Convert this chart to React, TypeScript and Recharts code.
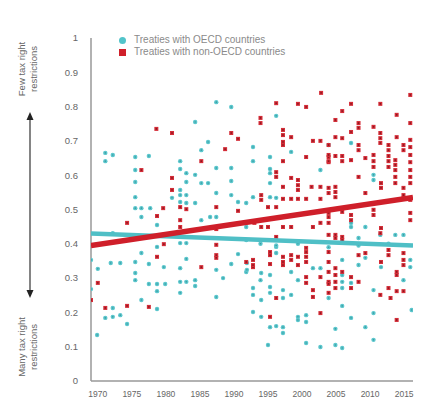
import React from "react";
import { ScatterChart, Scatter, XAxis, YAxis } from "recharts";

// [year, score] pairs
const oecdPoints: [number, number][] = [
  [1971.1, 0.665], [1972.2, 0.659], [1971.1, 0.641], [1975.5, 0.653], [1977.5, 0.656],
  [1975.5, 0.615], [1975.5, 0.58], [1975.5, 0.536], [1975.5, 0.504], [1976.4, 0.504],
  [1977.7, 0.504], [1976.4, 0.478], [1978.7, 0.455], [1972.2, 0.431], [1978.7, 0.391],
  [1969.0, 0.353], [1976.4, 0.373], [1971.9, 0.344], [1973.3, 0.344], [1975.5, 0.347],
  [1977.5, 0.341], [1979.7, 0.332], [1970.0, 0.327], [1975.5, 0.315], [1975.5, 0.294],
  [1969.0, 0.268], [1977.5, 0.283], [1978.7, 0.283], [1979.9, 0.283], [1978.7, 0.262],
  [1972.2, 0.213], [1976.4, 0.236], [1978.7, 0.21], [1971.1, 0.184], [1972.2, 0.187],
  [1973.3, 0.192], [1974.3, 0.166], [1969.9, 0.134],
  [1987.4, 0.813], [1989.6, 0.799], [1984.3, 0.755], [1986.2, 0.697], [1985.2, 0.673],
  [1982.1, 0.641], [1982.1, 0.618], [1983.0, 0.606], [1987.4, 0.621], [1989.6, 0.621],
  [1983.0, 0.58], [1984.3, 0.601], [1985.2, 0.577], [1986.2, 0.577], [1989.6, 0.583],
  [1982.1, 0.557], [1982.1, 0.542], [1983.0, 0.542], [1987.4, 0.548], [1989.6, 0.542],
  [1980.9, 0.534], [1982.1, 0.522], [1983.0, 0.519], [1984.3, 0.519], [1990.6, 0.522],
  [1991.8, 0.519], [1986.5, 0.478], [1987.4, 0.478], [1985.2, 0.469], [1991.8, 0.449],
  [1982.1, 0.402], [1983.0, 0.402], [1991.8, 0.411], [1983.0, 0.356], [1990.6, 0.37],
  [1989.6, 0.341], [1991.8, 0.318], [1982.1, 0.329], [1987.4, 0.324], [1988.4, 0.3],
  [1982.1, 0.289], [1983.0, 0.289], [1984.3, 0.294], [1984.3, 0.277], [1982.1, 0.257],
  [1987.4, 0.245],
  [1996.2, 0.773], [1992.8, 0.682], [1992.8, 0.641], [1998.4, 0.668], [1995.3, 0.653],
  [1995.3, 0.618], [1995.3, 0.606], [2002.7, 0.615], [1995.3, 0.577], [1992.8, 0.536],
  [1995.3, 0.536], [1996.2, 0.534], [1996.2, 0.391], [1996.2, 0.373], [2001.6, 0.329],
  [2002.7, 0.329], [1994.0, 0.315], [1995.3, 0.309], [1998.4, 0.318], [1999.4, 0.294],
  [1992.8, 0.271], [1992.8, 0.251], [1995.3, 0.274], [1995.3, 0.257], [1997.2, 0.265],
  [1997.2, 0.242], [1998.4, 0.251], [1994.0, 0.236], [1992.8, 0.201], [1994.0, 0.187],
  [1999.4, 0.187], [1999.4, 0.178], [2000.6, 0.192], [2000.6, 0.172], [1995.3, 0.157],
  [1996.2, 0.16], [1997.2, 0.157], [1997.2, 0.14], [1995.0, 0.105], [2000.6, 0.111],
  [2002.7, 0.099], [1991.9, 0.344], [1991.9, 0.324], [1993.9, 0.294],
  [1993.9, 0.4], [1996.2, 0.395], [1999.4, 0.4], [2003.9, 0.39], [2008.3, 0.395], [2012.7, 0.4],
  [2003.9, 0.688], [2007.2, 0.694], [2010.5, 0.601], [2010.5, 0.586], [2007.2, 0.461],
  [2007.2, 0.449], [2009.3, 0.449], [2008.3, 0.417], [2011.5, 0.426], [2013.7, 0.426],
  [2014.9, 0.426], [2005.9, 0.353], [2011.6, 0.332], [2015.9, 0.353], [2015.9, 0.332],
  [2005.9, 0.309], [2005.9, 0.289], [2005.9, 0.271], [2007.2, 0.286], [2008.3, 0.338],
  [2009.3, 0.359], [2014.9, 0.294], [2010.5, 0.265], [2003.9, 0.242], [2005.9, 0.219],
  [2016.1, 0.207], [2010.5, 0.198], [2007.2, 0.184], [2009.3, 0.157], [2004.9, 0.152],
  [2004.9, 0.105], [2005.9, 0.096], [2010.5, 0.12],
];

const nonOecdPoints: [number, number][] = [
  [1978.6, 0.735], [1976.4, 0.615], [1978.7, 0.481], [1979.6, 0.504], [1974.3, 0.461],
  [1979.7, 0.399], [1978.7, 0.362], [1970.0, 0.286], [1969.0, 0.236], [1971.1, 0.213],
  [1974.3, 0.219], [1977.5, 0.216],
  [1980.9, 0.723], [1989.6, 0.723], [1990.6, 0.706], [1988.7, 0.676], [1985.2, 0.641],
  [1980.9, 0.592], [1980.9, 0.557], [1982.1, 0.507], [1983.0, 0.501], [1987.4, 0.507],
  [1990.6, 0.496], [1982.1, 0.469], [1982.1, 0.449], [1987.4, 0.443], [1987.4, 0.397],
  [1987.4, 0.367], [1987.4, 0.359], [1991.8, 0.347], [1985.2, 0.332], [1992.8, 0.332],
  [2002.8, 0.84], [1996.2, 0.81], [1999.4, 0.808], [2000.6, 0.799], [1993.9, 0.767],
  [1993.9, 0.752], [1997.2, 0.732], [1997.2, 0.717], [1998.4, 0.711], [1997.2, 0.697],
  [1997.2, 0.688], [2001.6, 0.7], [2002.7, 0.7], [2003.9, 0.688], [2000.6, 0.653],
  [2003.9, 0.653], [2003.9, 0.638], [1996.2, 0.609], [1996.2, 0.595], [1997.2, 0.641],
  [1998.4, 0.592], [1999.4, 0.586], [1999.4, 0.571], [1999.4, 0.557], [1997.2, 0.566],
  [2001.4, 0.566], [2002.7, 0.566], [2003.9, 0.563], [1994.0, 0.542], [1994.0, 0.528],
  [1997.2, 0.531], [1998.4, 0.531], [1999.4, 0.531], [2000.6, 0.531], [2002.7, 0.531],
  [1995.0, 0.507], [1996.2, 0.507], [1993.0, 0.461], [1994.0, 0.449], [1995.0, 0.449],
  [1997.2, 0.449], [1998.4, 0.449], [2001.6, 0.449], [2002.7, 0.461], [2003.9, 0.461],
  [1996.2, 0.42], [2000.6, 0.388], [2000.6, 0.376], [2000.6, 0.362], [2000.6, 0.347],
  [1995.3, 0.376], [1995.3, 0.367], [1997.2, 0.362], [1997.2, 0.347], [1997.2, 0.338],
  [1998.4, 0.367], [1998.4, 0.353], [1999.4, 0.362], [1999.4, 0.338], [2003.9, 0.347],
  [1992.8, 0.353], [1992.8, 0.338], [1995.3, 0.341], [2000.6, 0.303], [2000.6, 0.286],
  [2002.7, 0.303], [2003.9, 0.289], [2003.9, 0.283], [1996.2, 0.242], [2001.6, 0.265],
  [2001.6, 0.245], [2003.9, 0.257], [1995.3, 0.187], [2002.7, 0.198],
  [2015.9, 0.834], [2007.2, 0.808], [2011.5, 0.808], [2005.9, 0.787], [2013.9, 0.776],
  [2004.9, 0.761], [2008.3, 0.752], [2008.3, 0.738], [2010.5, 0.741], [2015.9, 0.752],
  [2007.2, 0.726], [2011.5, 0.723], [2011.5, 0.708], [2011.5, 0.694], [2004.9, 0.711],
  [2005.9, 0.708], [2013.9, 0.711], [2015.9, 0.703], [2015.9, 0.682], [2008.3, 0.688],
  [2008.3, 0.673], [2009.3, 0.65], [2012.7, 0.688], [2012.7, 0.673], [2012.7, 0.656],
  [2012.7, 0.641], [2012.7, 0.624], [2013.7, 0.644], [2013.7, 0.63], [2013.7, 0.615],
  [2013.7, 0.595], [2013.7, 0.577], [2014.9, 0.688], [2014.9, 0.673], [2015.9, 0.659],
  [2015.9, 0.638], [2015.9, 0.615], [2015.9, 0.595], [2015.9, 0.577], [2003.9, 0.659],
  [2003.9, 0.641], [2004.9, 0.656], [2005.9, 0.656], [2005.9, 0.641], [2007.2, 0.644],
  [2010.5, 0.659], [2010.5, 0.641], [2010.5, 0.624], [2008.3, 0.595], [2004.9, 0.566],
  [2004.9, 0.551], [2003.9, 0.548], [2009.3, 0.548], [2014.9, 0.563], [2014.9, 0.542],
  [2011.6, 0.577], [2011.6, 0.563], [2004.9, 0.536], [2015.9, 0.528], [2005.9, 0.493],
  [2007.2, 0.484], [2007.2, 0.469], [2003.9, 0.49], [2003.9, 0.478], [2010.5, 0.499],
  [2010.5, 0.484], [2015.9, 0.49], [2015.9, 0.469], [2011.6, 0.446], [2003.9, 0.426],
  [2004.9, 0.426], [2004.9, 0.417], [2005.9, 0.42], [2005.9, 0.411], [2011.5, 0.431],
  [2003.9, 0.376], [2008.3, 0.367], [2009.3, 0.373], [2012.7, 0.382], [2012.7, 0.367],
  [2011.6, 0.347], [2014.9, 0.373], [2014.9, 0.353], [2014.9, 0.338], [2003.9, 0.318],
  [2004.9, 0.329], [2005.9, 0.318], [2004.9, 0.309], [2004.9, 0.289], [2004.9, 0.271],
  [2007.2, 0.303], [2007.2, 0.271], [2008.3, 0.289], [2013.9, 0.318], [2013.9, 0.309],
  [2012.7, 0.271], [2011.5, 0.251], [2013.0, 0.242], [2013.9, 0.262], [2014.9, 0.262],
  [2013.9, 0.178],
];

// linear trend endpoints [year, score]
const oecdTrend: [number, number][] = [[1969, 0.43], [2016.3, 0.395]];
const nonOecdTrend: [number, number][] = [[1969, 0.395], [2016.3, 0.535]];

const xTicks = [1970, 1975, 1980, 1985, 1990, 1995, 2000, 2005, 2010, 2015];
const yTicks = [0, 0.1, 0.2, 0.3, 0.4, 0.5, 0.6, 0.7, 0.8, 0.9, 1];

const legendItems = [
  { label: "Treaties with OECD countries", color: "#52c4ca", shape: "circle" },
  { label: "Treaties with non-OECD countries", color: "#d0202b", shape: "square" },
];

const toData = (pts: [number, number][]) => pts.map(([x, y]) => ({ x, y }));

const TEAL = "#5cc7cd";
const RED = "#d42c37";

const TealDot = (p: any) => (
  <g>
    <circle cx={p.cx} cy={p.cy} r={2.2} fill={TEAL} />
    <circle cx={p.cx} cy={p.cy} r={0.8} fill="#3a9aa0" />
  </g>
);
const RedDot = (p: any) => (
  <g>
    <rect x={p.cx - 2} y={p.cy - 2} width={4} height={4} fill={RED} />
    <rect x={p.cx - 0.7} y={p.cy - 0.7} width={1.4} height={1.4} fill="#7a151c" />
  </g>
);
const NoDot = () => <g />;

const font = "'Liberation Sans', Arial, sans-serif";
const xTickStyle = { fontSize: 8.5, fill: "#666", fontFamily: font };
const yTickStyle = { fontSize: 9.5, fill: "#666", fontFamily: font };

export default function App() {
  return (
    <div style={{ position: "absolute", left: 0, top: 0, width: 423, height: 406, background: "#fff" }}>
      <ScatterChart width={423} height={406} margin={{ top: 38, right: 10, bottom: 0, left: 0 }}>
        <XAxis
          type="number"
          dataKey="x"
          domain={[1969, 2016.3]}
          ticks={xTicks}
          allowDataOverflow
          tickLine={false}
          tickSize={0}
          tickMargin={10}
          height={25}
          axisLine={{ stroke: "#999", strokeWidth: 1.5 }}
          tick={xTickStyle}
        />
        <YAxis
          type="number"
          dataKey="y"
          domain={[0, 1]}
          ticks={yTicks}
          width={91}
          tickLine={false}
          tickSize={0}
          tickMargin={13}
          axisLine={{ stroke: "#999", strokeWidth: 1.5 }}
          tick={yTickStyle}
          tickFormatter={(v: number) => String(v)}
        />
        <Scatter data={toData(oecdPoints)} shape={TealDot} isAnimationActive={false} />
        <Scatter data={toData(nonOecdPoints)} shape={RedDot} isAnimationActive={false} />
        <Scatter
          data={toData(oecdTrend)}
          shape={NoDot}
          line={{ stroke: "#4fbfc6", strokeWidth: 4.5 }}
          isAnimationActive={false}
        />
        <Scatter
          data={toData(nonOecdTrend)}
          shape={NoDot}
          line={{ stroke: "#cf1f2a", strokeWidth: 5.5 }}
          isAnimationActive={false}
        />
      </ScatterChart>

      {/* legend */}
      <div style={{ position: "absolute", left: 119, top: 34, fontFamily: font, fontSize: 10, color: "#8a8a8a", lineHeight: "12px" }}>
        {legendItems.map((it) => (
          <div key={it.label} style={{ display: "flex", alignItems: "center", height: 12 }}>
            <span
              style={{
                display: "inline-block",
                width: 7,
                height: 7,
                background: it.color,
                borderRadius: it.shape === "circle" ? "50%" : 0,
                marginRight: 8,
              }}
            />
            <span>{it.label}</span>
          </div>
        ))}
      </div>

      {/* side annotation */}
      <svg width={70} height={406} style={{ position: "absolute", left: 0, top: 0 }}>
        <g fontFamily={font} fontSize={9.5} fill="#666" textAnchor="middle">
          <text transform="translate(25,69) rotate(-90)">Few tax right</text>
          <text transform="translate(37,69) rotate(-90)">restrictions</text>
          <text transform="translate(25,347) rotate(-90)">Many tax right</text>
          <text transform="translate(37,347) rotate(-90)">restrictions</text>
        </g>
        <line x1={30} y1={118} x2={30} y2={292} stroke="#333" strokeWidth={1.2} />
        <polygon points="30,112 26.5,120 33.5,120" fill="#222" />
        <polygon points="30,298 26.5,290 33.5,290" fill="#222" />
      </svg>
    </div>
  );
}
